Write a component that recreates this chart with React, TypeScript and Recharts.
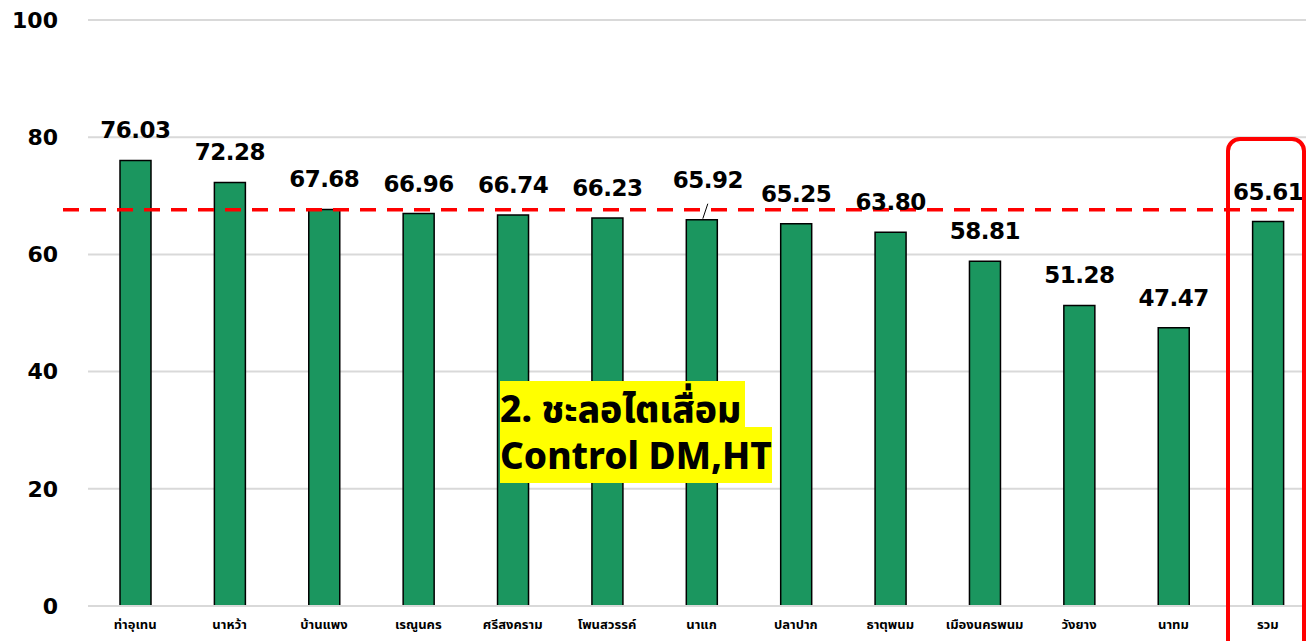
import React from "react";
import { BarChart, Bar, XAxis, YAxis, CartesianGrid, ReferenceLine, LabelList } from "recharts";

const categories = ["ท่าอุเทน", "นาหว้า", "บ้านแพง", "เรณูนคร", "ศรีสงคราม", "โพนสวรรค์", "นาแก", "ปลาปาก", "ธาตุพนม", "เมืองนครพนม", "วังยาง", "นาทม", "รวม"];
const values = [76.03, 72.28, 67.68, 66.96, 66.74, 66.23, 65.92, 65.25, 63.8, 58.81, 51.28, 47.47, 65.61];
const yTicks = [0, 20, 40, 60, 80, 100];
const targetValue = 67.6;
const annotationLines = ["2. ชะลอไตเสื่อม", "Control DM,HT"];

const data = categories.map((name, i) => ({ name, value: values[i] }));

const FONT = "'Noto Sans', 'Noto Sans Thai', sans-serif";
const NUM_FONT = "'DejaVu Sans', 'Noto Sans', sans-serif";

const renderLabel = (props: any) => {
  const { x, y, width, value, index } = props;
  const cx = Number(x) + Number(width) / 2;
  const top = Number(y);
  const text = Number(value).toFixed(2);
  if (index === 6) {
    return (
      <g>
        <line x1={cx + 6} y1={top - 16} x2={cx + 1} y2={top - 1} stroke="#000" strokeWidth={1} />
        <text x={cx + 6} y={top - 32} textAnchor="middle" fontFamily={NUM_FONT} fontWeight={700} fontSize={23} letterSpacing={-0.5} fill="#000">{text}</text>
      </g>
    );
  }
  return (
    <text x={cx} y={top - 22} textAnchor="middle" fontFamily={NUM_FONT} fontWeight={700} fontSize={23} letterSpacing={-0.5} fill="#000">{text}</text>
  );
};

const DashedShape = (props: any) => {
  const { x1, y1, x2, y2 } = props;
  return <line x1={Number(x1) - 25} y1={y1} x2={x2} y2={y2} stroke="#ff0000" strokeWidth={3.5} strokeDasharray="16 11" />;
};

export default function App() {
  return (
    <div style={{ position: "absolute", left: 0, top: 0, width: 1306, height: 641, overflow: "hidden", background: "#fff", fontFamily: FONT }}>
      <BarChart width={1320} height={641} data={data} margin={{ top: 20, right: 5, bottom: 0, left: 0 }}>
        <CartesianGrid vertical={false} stroke="#d9d9d9" strokeWidth={2} />
        <XAxis dataKey="name" height={35} tickLine={false} tickSize={0} tickMargin={14} axisLine={{ stroke: "#d9d9d9", strokeWidth: 2 }} interval={0}
          tick={{ fontFamily: FONT, fontWeight: 700, fontSize: 13, fill: "#000" }} />
        <YAxis domain={[0, 100]} ticks={yTicks} width={88} tickLine={false} tickSize={0} tickMargin={30} axisLine={false}
          tick={{ fontFamily: NUM_FONT, fontWeight: 700, fontSize: 22, fill: "#000" }} />
        <Bar dataKey="value" fill="#1b965f" stroke="#000" strokeWidth={1.5} barSize={31} isAnimationActive={false}>
          <LabelList dataKey="value" content={renderLabel} />
        </Bar>
        <ReferenceLine y={targetValue} shape={DashedShape} ifOverflow="visible" />
      </BarChart>
      <div style={{ position: "absolute", left: 500, top: 381, lineHeight: 1, fontFamily: FONT, fontWeight: 800, fontSize: 37, color: "#000" }}>
        <div style={{ display: "inline-block", background: "#ffff00", height: 46, paddingRight: 4, lineHeight: "54px", overflow: "visible" }}>{annotationLines[0]}</div>
        <br />
        <div style={{ display: "inline-block", background: "#ffff00", height: 56, lineHeight: "56px" }}>{annotationLines[1]}</div>
      </div>
      <div style={{ position: "absolute", left: 1226, top: 137, width: 72, height: 540, border: "4px solid #ff0000", borderRadius: 14 }} />
    </div>
  );
}
